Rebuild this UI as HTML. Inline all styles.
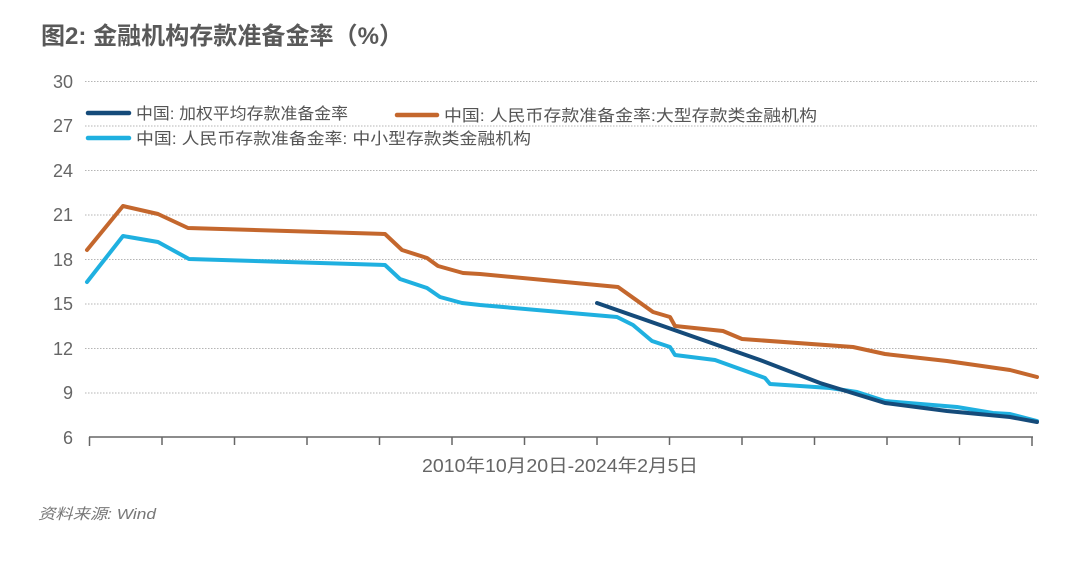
<!DOCTYPE html>
<html><head><meta charset="utf-8"><style>
html,body{margin:0;padding:0;background:#fff;}
svg{display:block;}
text{font-family:"Liberation Sans","Noto Sans CJK SC",sans-serif;}
</style></head><body>
<svg width="1080" height="562" viewBox="0 0 1080 562" xmlns="http://www.w3.org/2000/svg">
<rect width="1080" height="562" fill="#fff"/>
<text x="41" y="44" font-size="24" font-weight="bold" fill="#595959" textLength="362" lengthAdjust="spacingAndGlyphs">图2: 金融机构存款准备金率（%）</text>
<g stroke="#b5b5b5" stroke-width="1" stroke-dasharray="1.5,1.5">
<line x1="85" y1="81.5" x2="1037" y2="81.5"/>
<line x1="85" y1="126" x2="1037" y2="126"/>
<line x1="85" y1="170.5" x2="1037" y2="170.5"/>
<line x1="85" y1="215" x2="1037" y2="215"/>
<line x1="85" y1="259.5" x2="1037" y2="259.5"/>
<line x1="85" y1="304" x2="1037" y2="304"/>
<line x1="85" y1="348.5" x2="1037" y2="348.5"/>
<line x1="85" y1="393" x2="1037" y2="393"/>
</g>
<g font-size="18" fill="#666" text-anchor="end">
<text x="73" y="88">30</text>
<text x="73" y="132">27</text>
<text x="73" y="177">24</text>
<text x="73" y="221">21</text>
<text x="73" y="266">18</text>
<text x="73" y="310">15</text>
<text x="73" y="355">12</text>
<text x="73" y="399">9</text>
<text x="73" y="444">6</text>
</g>
<g stroke="#666" stroke-width="1.5">
<line x1="89" y1="437" x2="1033" y2="437"/>
<line x1="89.5" y1="437" x2="89.5" y2="446"/>
<line x1="162" y1="437" x2="162" y2="445"/>
<line x1="234.5" y1="437" x2="234.5" y2="445"/>
<line x1="307" y1="437" x2="307" y2="445"/>
<line x1="379.5" y1="437" x2="379.5" y2="445"/>
<line x1="452" y1="437" x2="452" y2="445"/>
<line x1="524.5" y1="437" x2="524.5" y2="445"/>
<line x1="597" y1="437" x2="597" y2="445"/>
<line x1="669.5" y1="437" x2="669.5" y2="445"/>
<line x1="742" y1="437" x2="742" y2="445"/>
<line x1="814.5" y1="437" x2="814.5" y2="445"/>
<line x1="887" y1="437" x2="887" y2="445"/>
<line x1="959.5" y1="437" x2="959.5" y2="445"/>
<line x1="1032" y1="437" x2="1032" y2="446"/>
</g>
<g fill="none" stroke-width="4" stroke-linejoin="round" stroke-linecap="round">
<polyline stroke="#c4672d" points="87,250 123,206 158,214 188,228 385,234 402,250 427,258 438,266 463,273 480,274 618,287 653,312 670,317 675,326 723,331 742,339 853,347 885,354 947,361 1010,370 1037,377"/>
<polyline stroke="#1fb0e0" points="87,282 123,236 158,242 189,259 385,265 400,279 427,288 440,297 462,303 480,305 617,317 633,325 652,341 670,347 675,355 715,360 765,378 770,384 830,388 857,392 885,401 957,407 993,413 1010,414 1037,421"/>
<polyline stroke="#154b7a" points="597,303 760,360 820,383 885,403 947,411 1010,417 1037,422"/>
</g>
<g stroke-width="4.5" stroke-linecap="round">
<line x1="88" y1="113" x2="129" y2="113" stroke="#154b7a"/>
<line x1="397" y1="115" x2="437" y2="115" stroke="#c4672d"/>
<line x1="88" y1="138" x2="129" y2="138" stroke="#1fb0e0"/>
</g>
<g font-size="16" fill="#555">
<text x="136" y="119" textLength="212" lengthAdjust="spacingAndGlyphs">中国: 加权平均存款准备金率</text>
<text x="444" y="121" textLength="373" lengthAdjust="spacingAndGlyphs">中国: 人民币存款准备金率:大型存款类金融机构</text>
<text x="136" y="144" textLength="395" lengthAdjust="spacingAndGlyphs">中国: 人民币存款准备金率: 中小型存款类金融机构</text>
</g>
<text x="422" y="472" font-size="18" fill="#666" textLength="276" lengthAdjust="spacingAndGlyphs">2010年10月20日-2024年2月5日</text>
<text x="38" y="519" font-size="15" fill="#777" font-style="italic" textLength="118" lengthAdjust="spacingAndGlyphs">资料来源: Wind</text>
</svg>
</body></html>
